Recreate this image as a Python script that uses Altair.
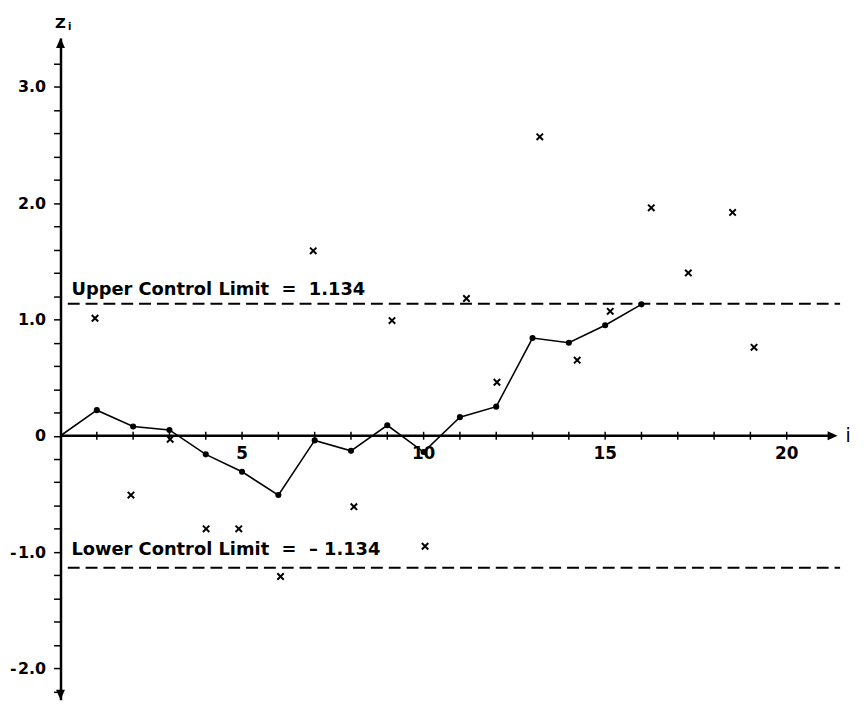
import altair as alt
import pandas as pd

# ---- data ----
line_i = list(range(17))
line_z = [0, 0.22, 0.08, 0.05, -0.16, -0.31, -0.51, -0.04, -0.13, 0.09, -0.14,
          0.16, 0.25, 0.84, 0.80, 0.95, 1.13]
obs_i = [0.95, 1.94, 3.02, 4.01, 4.91, 6.06, 6.96, 8.08, 9.13, 10.04, 11.18,
         12.02, 13.2, 14.23, 15.14, 16.27, 17.29, 18.51, 19.1]
obs_z = [1.01, -0.51, -0.03, -0.80, -0.80, -1.21, 1.59, -0.61, 0.99, -0.95,
         1.18, 0.46, 2.57, 0.65, 1.07, 1.96, 1.40, 1.92, 0.76]
ucl = 1.134
lcl = -1.134
ucl_text = "Upper Control Limit\u00a0 =\u00a0 1.134"
lcl_text = "Lower Control Limit\u00a0 =\u00a0 \u2013 1.134"
x_tick_values = list(range(1, 21))
x_label_values = [5, 10, 15, 20]
y_tick_values = [round(-2.2 + 0.2 * k, 1) for k in range(28)]

X_DOMAIN = [0, 21.5]
Y_DOMAIN = [-2.27, 3.42]
W = 788
H = 668

xscale = alt.Scale(domain=X_DOMAIN, nice=False, zero=False)
yscale = alt.Scale(domain=Y_DOMAIN, nice=False, zero=False)

label_expr = ("abs(datum.value - round(datum.value)) > 0.01 ? '' : "
              "(datum.value == 0 ? '0' : (datum.value < 0 ? '-\u200a' + format(-datum.value, '.1f') "
              ": format(datum.value, '.1f')))")
yaxis = alt.Axis(values=y_tick_values, labelExpr=label_expr, title=None, grid=False,
                 domainColor="black", domainWidth=2.5, tickColor="black", tickWidth=1.5,
                 tickSize=7, labelFont="DejaVu Sans", labelFontWeight="bold",
                 labelFontSize=16, labelColor="black", labelPadding=8,
                 labelOverlap=False, labelFlush=False)


def X(field="x"):
    return alt.X(f"{field}:Q", scale=xscale, axis=None)


def Y(field="y"):
    return alt.Y(f"{field}:Q", scale=yscale, axis=yaxis)


line_df = pd.DataFrame({"x": line_i, "y": line_z})
dots_df = line_df.iloc[1:]
obs_df = pd.DataFrame({"x": obs_i, "y": obs_z})
limits_df = pd.DataFrame({"x": [0.2, 0.2], "x2": [21.47, 21.47], "y": [ucl, lcl]})
xaxis_df = pd.DataFrame({"x": [0], "x2": [21.2], "y": [0]})
xticks_df = pd.DataFrame({"x": x_tick_values, "y": [0] * len(x_tick_values)})
xlabels_df = pd.DataFrame({"x": x_label_values, "y": [0] * len(x_label_values),
                           "t": [str(v) for v in x_label_values]})
ann_df = pd.DataFrame({"x": [0.3, 0.3], "y": [1.25, -0.98], "t": [ucl_text, lcl_text]})

limits = alt.Chart(limits_df).mark_rule(color="black", strokeWidth=2, strokeDash=[12, 6]).encode(
    x=X(), x2="x2:Q", y=Y())
xaxis_line = alt.Chart(xaxis_df).mark_rule(color="black", strokeWidth=2.5).encode(
    x=X(), x2="x2:Q", y=Y())
xticks = alt.Chart(xticks_df).mark_tick(orient="vertical", size=8, thickness=1.5,
                                         color="black", opacity=1).encode(x=X(), y=Y())
xlabels = alt.Chart(xlabels_df).mark_text(dy=18, font="DejaVu Sans", fontWeight="bold",
                                           fontSize=17, color="black").encode(
    x=X(), y=Y(), text="t:N")
line = alt.Chart(line_df).mark_line(color="black", strokeWidth=1.6).encode(x=X(), y=Y())
dots = alt.Chart(dots_df).mark_circle(size=38, color="black", opacity=1).encode(x=X(), y=Y())
obs = alt.Chart(obs_df).mark_point(shape="M-1,-1L1,1M-1,1L1,-1", size=42, strokeWidth=2,
                                   filled=False, color="black", opacity=1).encode(x=X(), y=Y())
ann = alt.Chart(ann_df).mark_text(align="left", baseline="middle", font="DejaVu Sans",
                                  fontWeight="bold", fontSize=18, color="black").encode(
    x=X(), y=Y(), text="t:N")

arrow_up = alt.Chart(pd.DataFrame({"x": [0], "y": [Y_DOMAIN[1]]})).mark_point(
    shape="M0,0L0.9,2L-0.9,2Z", size=100, filled=True, color="black", opacity=1,
    strokeWidth=0).encode(x=X(), y=Y())
arrow_down = alt.Chart(pd.DataFrame({"x": [0], "y": [Y_DOMAIN[0]]})).mark_point(
    shape="M0,0L0.9,-2L-0.9,-2Z", size=100, filled=True, color="black", opacity=1,
    strokeWidth=0).encode(x=X(), y=Y())
arrow_right = alt.Chart(pd.DataFrame({"x": [21.4], "y": [0]})).mark_point(
    shape="M0,0L-2,-0.9L-2,0.9Z", size=100, filled=True, color="black", opacity=1,
    strokeWidth=0).encode(x=X(), y=Y())

zlab = alt.Chart(pd.DataFrame({"x": [0], "y": [3.55], "t": ["Z"]})).mark_text(
    font="DejaVu Sans", fontWeight="bold", fontSize=15, color="black",
    baseline="middle").encode(x=X(), y=Y(), text="t:N")
zsub = alt.Chart(pd.DataFrame({"x": [0.25], "y": [3.51], "t": ["i"]})).mark_text(
    font="DejaVu Sans", fontWeight="bold", fontSize=10, color="black",
    baseline="middle").encode(x=X(), y=Y(), text="t:N")
ilab = alt.Chart(pd.DataFrame({"x": [21.69], "y": [0], "t": ["i"]})).mark_text(
    font="DejaVu Sans", fontSize=19, color="black", baseline="middle").encode(
    x=X(), y=Y(), text="t:N")

chart = alt.layer(limits, xaxis_line, xticks, xlabels, line, dots, obs, ann,
                  arrow_up, arrow_down, arrow_right, zlab, zsub, ilab).properties(
    width=W, height=H,
    padding={"left": 53, "top": 27, "right": 18, "bottom": 0},
    autosize=alt.AutoSizeParams(type="none"),
    background="white",
).configure_view(strokeWidth=0)

chart.save("out.html", embed_options={"renderer": "svg", "actions": False})
